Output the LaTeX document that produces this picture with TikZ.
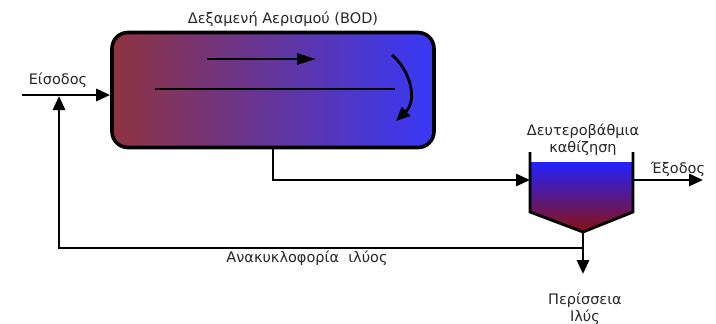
\documentclass[tikz,border=0pt]{standalone}
\usepackage{fontspec}
\setmainfont{DejaVu Sans}
\usetikzlibrary{arrows.meta}
\definecolor{tankL}{HTML}{8F3340}
\definecolor{tankR}{HTML}{3838F8}
\definecolor{clarT}{HTML}{2222FF}
\definecolor{clarB}{HTML}{8A1010}
\tikzset{
  flow/.style={line width=2.8pt,-{Triangle[length=14pt,width=12pt]}},
  pipe/.style={line width=2.8pt},
  lbl/.style={font=\fontsize{14.5}{17}\selectfont, inner sep=0pt, text=black!85},
}
\begin{document}
\begin{tikzpicture}[x=1pt,y=-1pt]
\useasboundingbox (0,0) rectangle (716,324);
% aeration tank
\node[draw, line width=3.6pt, rounded corners=16pt, left color=tankL, right color=tankR,
      minimum width=322pt, minimum height=115pt, inner sep=0pt] (tank) at (273,90) {};
\node[lbl] (tanktitle) at (283,19) {Δεξαμενή Αερισμού (BOD)};
% internal flow lines
\coordinate (a1) at (207,59); \coordinate (a2) at (316,59);
\draw[flow, -{Triangle[length=19pt,width=11pt]}] (a1) -- (a2);
\coordinate (b1) at (155,89); \coordinate (b2) at (395,89);
\draw[pipe] (b1) -- (b2);
\coordinate (c1) at (392,55); \coordinate (c2) at (396,121);
\draw[flow] (c1) .. controls (410,70) and (418,100) .. (c2);
% inlet
\node[lbl] (inlbl) at (58,80) {Είσοδος};
\coordinate (in0) at (22,95);
\draw[flow] (in0) -- (tank.west |- in0);
% clarifier
\coordinate (wl) at (530,152); \coordinate (wr) at (633,152);
\coordinate (lt) at (530,162); \coordinate (rt) at (633,162);
\coordinate (lb) at (530,212); \coordinate (rb) at (633,212);
\coordinate (bot) at (583,232);
\shade[top color=clarT, bottom color=clarB] (lt) -- (rt) -- (rb) -- (bot) -- (lb) -- cycle;
\draw[pipe, line join=miter] (wl) -- (lb) -- (bot) -- (rb) -- (wr);
\node[lbl, align=center] (clarlbl) at (583,140) {Δευτεροβάθμια\\[0pt]καθίζηση};
% tank to clarifier
\coordinate (t0) at (273,147);
\coordinate (cin) at (530,180);
\draw[flow] (t0) |- (cin);
% outlet
\coordinate (out0) at (633,180); \coordinate (out1) at (703,180);
\draw[flow] (out0) -- (out1);
\node[lbl] (outlbl) at (678,169) {Έξοδος};
% sludge
\coordinate (sl) at (583,274);
\draw[flow] (bot) -- (sl);
\node[lbl, align=center] (sllbl) at (585,309) {Περίσσεια\\[0pt]Ιλύς};
% recycle
\coordinate (r0) at (583,248);
\coordinate (r1) at (59,248);
\coordinate (r2) at (59,96);
\draw[flow] (r0) -- (r1) -- (r2);
\node[lbl] (reclbl) at (307,258) {Ανακυκλοφορία\ \ ιλύος};
\end{tikzpicture}
\end{document}
